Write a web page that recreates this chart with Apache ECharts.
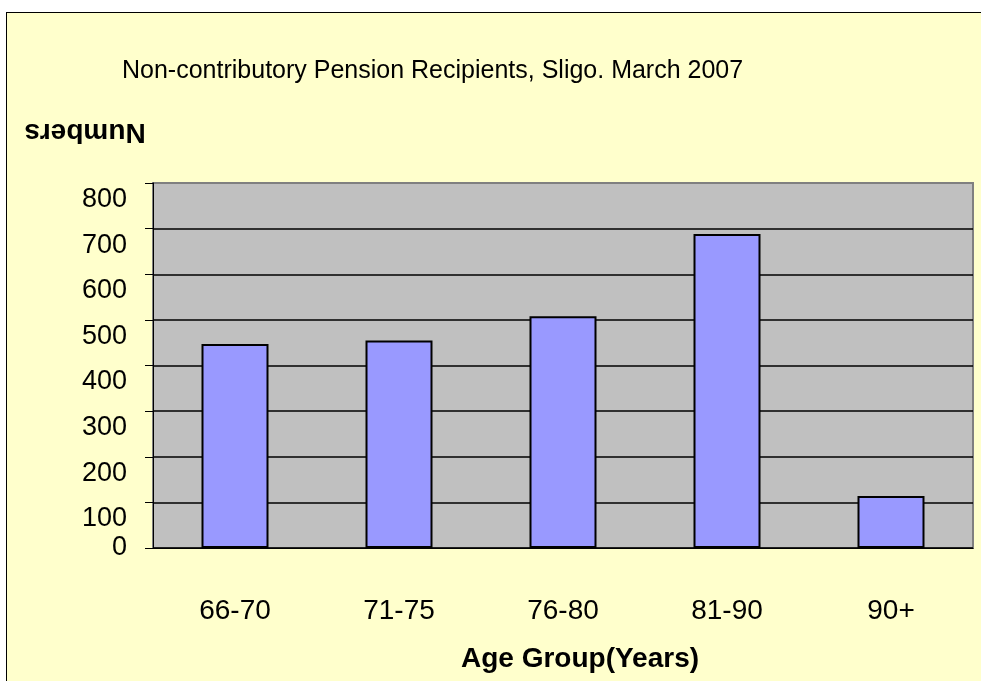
<!DOCTYPE html>
<html>
<head>
<meta charset="utf-8">
<title>Non-contributory Pension Recipients, Sligo. March 2007</title>
<script src="https://cdn.jsdelivr.net/npm/echarts@6/dist/echarts.min.js"></script>
<style>
    html, body { margin: 0; padding: 0; background: #ffffff; }
    #frame {
        position: absolute; left: 6px; top: 12px; width: 990px; height: 700px;
        background: #FFFFCC; border-left: 1px solid #000; border-top: 1px solid #000;
    }
    #chart { position: absolute; left: 0; top: 0; width: 981px; height: 681px; }
</style>
</head>
<body>
<div id="frame"></div>
<div id="chart"></div>
<script>
// 数据
let ageGroups = ['66-70', '71-75', '76-80', '81-90', '90+'];
let recipients = [447, 455, 508, 688, 114];
let yTicks = [0, 100, 200, 300, 400, 500, 600, 700, 800];

let font = 'Liberation Sans, Arial, sans-serif';
let yMin = yTicks[0];
let yMax = yTicks[yTicks.length - 1];
let myChart = echarts.init(document.getElementById('chart'));

// 网格线颜色，最上面一条是灰色边框
let splitColors = yTicks.map(function (v, i) {
    return i === yTicks.length - 1 ? '#808080' : '#000000';
});

let option = {
    backgroundColor: 'transparent',
    animation: false,
    title: {
        text: 'Non-contributory Pension Recipients, Sligo. March 2007',
        left: 117,
        top: 54,
        textStyle: { fontFamily: font, fontSize: 25, fontWeight: 'normal', color: '#000' }
    },
    graphic: [{
        type: 'text',
        x: 85,
        y: 132,
        rotation: Math.PI,
        style: {
            text: 'Numbers',
            fontFamily: font,
            fontSize: 28,
            fontWeight: 'bold',
            fill: '#000',
            align: 'center',
            verticalAlign: 'middle'
        }
    }],
    grid: {
        left: 153,
        right: 8,
        top: 183,
        bottom: 133,
        show: true,
        backgroundColor: '#C0C0C0',
        borderColor: '#808080',
        borderWidth: 2
    },
    xAxis: {
        type: 'category',
        data: ageGroups,
        name: 'Age Group(Years)',
        nameLocation: 'middle',
        nameGap: 97,
        nameTextStyle: { fontFamily: font, fontSize: 28, fontWeight: 'bold', color: '#000', padding: [0, 0, 0, 34] },
        axisLine: { lineStyle: { color: '#000', width: 1 } },
        axisTick: { length: 9, lineStyle: { color: '#000' } },
        axisLabel: { margin: 49, fontFamily: font, fontSize: 28, color: '#000' }
    },
    yAxis: [{
        // 主轴：100 到 800 的标签略低于网格线
        type: 'value',
        position: 'left',
        min: yMin,
        max: yMax,
        interval: 100,
        axisLine: { show: true, lineStyle: { color: '#000', width: 1 } },
        axisTick: { show: true, length: 8, lineStyle: { color: '#000' } },
        splitLine: { lineStyle: { color: splitColors, width: 1.5 } },
        axisLabel: {
            margin: 26,
            showMaxLabel: true,
            fontFamily: font,
            fontSize: 27,
            lineHeight: 27,
            verticalAlign: 'top',
            padding: [3, 0, 0, 0],
            color: '#000',
            formatter: function (v) {
                return v === yMin ? '' : String(v);
            }
        }
    }, {
        // 只显示 0 的标签
        type: 'value',
        position: 'left',
        offset: 0,
        min: yMin,
        max: yMax,
        interval: yMax,
        axisLine: { show: false },
        axisTick: { show: false },
        splitLine: { show: false },
        axisLabel: {
            margin: 26,
            fontFamily: font,
            fontSize: 27,
            padding: [0, 0, 9, 0],
            color: '#000',
            formatter: function (v) {
                return v === yMin ? String(v) : '';
            }
        }
    }],
    series: [{
        type: 'bar',
        data: recipients,
        barWidth: 67,
        itemStyle: { color: '#9999FF', borderColor: '#000', borderWidth: 2 }
    }]
};
myChart.setOption(option);
</script>
</body>
</html>
